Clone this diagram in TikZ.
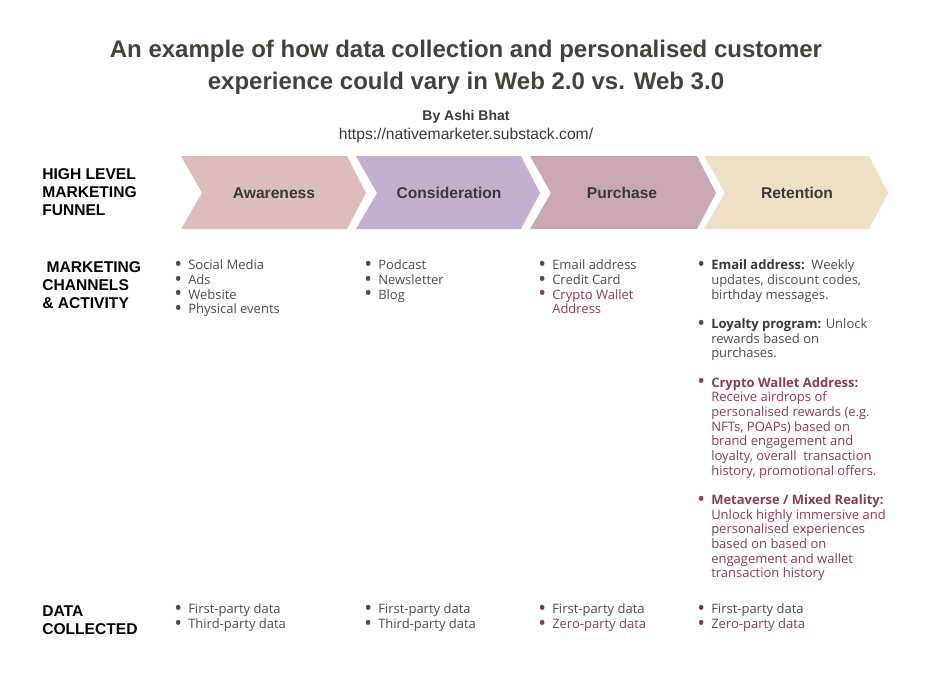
\documentclass[tikz,border=0pt]{standalone}
\usepackage{fontspec}
\setmainfont{Open Sans}
\newfontfamily\headfont{Liberation Sans}
\definecolor{titlegreen}{HTML}{3E4639}
\definecolor{txtgrey}{HTML}{4D4D4D}
\definecolor{boldgrey}{HTML}{3A3A3A}
\definecolor{wine}{HTML}{8C3B5B}
\definecolor{awarecol}{HTML}{DCBCBC}
\definecolor{considcol}{HTML}{C3AFCE}
\definecolor{purchcol}{HTML}{C9A8B3}
\definecolor{retaincol}{HTML}{EDE0C6}
\newcommand{\bt}{\makebox[10.5pt][l]{\raisebox{-0.12em}{\scalebox{1.6}{\textbullet}}}}
\newcommand{\chevron}[3]{\fill[#1] (#2,156) -- (#3,156) -- (#3+19,193) -- (#3,229) -- (#2,229) -- (#2+21,193) -- cycle;}
\tikzset{
  rowlabel/.style={anchor=north west, align=left, inner sep=0pt,
    font=\headfont\bfseries\fontsize{11.7}{13.5}\selectfont},
  stage/.style={text=boldgrey, font=\headfont\bfseries\fontsize{11.7}{13}\selectfont},
  items/.style={anchor=north west, inner sep=0pt, text=txtgrey,
    font=\fontsize{9.75}{11}\selectfont},
}
\begin{document}
\begin{tikzpicture}[x=0.75pt,y=-0.75pt]
	\useasboundingbox[fill=white] (0,0) rectangle (936,687);
	\node[anchor=north, align=center, inner sep=0pt, text=titlegreen,
	  font=\headfont\bfseries\fontsize{18}{24}\selectfont] (title) at (466,39.5)
	  {An example of how data collection and personalised customer\\
	   experience could vary in Web 2.0 vs. Web 3.0};
	\node[anchor=base, text=boldgrey, font=\headfont\bfseries\fontsize{10.5}{12}\selectfont] (author) at (466,120) {By Ashi Bhat};
	\node[anchor=base, text=boldgrey, font=\headfont\fontsize{11.75}{13}\selectfont] (url) at (466,139) {https://nativemarketer.substack.com/};

	\node[rowlabel] (funnel) at (42,168.5) {HIGH LEVEL\\MARKETING\\FUNNEL};
	\node[rowlabel] (channels) at (42,261.5) {\ MARKETING\\CHANNELS\\\& ACTIVITY};
	\node[rowlabel] (data) at (42,605.5) {DATA\\COLLECTED};

	\chevron{awarecol}{181}{347}
	\chevron{considcol}{356}{521}
	\chevron{purchcol}{530}{697}
	\chevron{retaincol}{704}{869}
	\node[stage] (aware) at (274,193) {Awareness};
	\node[stage] (consid) at (449,193) {Consideration};
	\node[stage] (purch) at (622,193) {Purchase};
	\node[stage] (retain) at (797,193) {Retention};

	\node[items] (awarech) at (174,259.3) {\begin{tabular}{@{}l@{}l@{}}
	  \bt & Social Media\\ \bt & Ads\\ \bt & Website\\ \bt & Physical events
	  \end{tabular}};
	\node[items] (considch) at (364,259.3) {\begin{tabular}{@{}l@{}l@{}}
	  \bt & Podcast\\ \bt & Newsletter\\ \bt & Blog
	  \end{tabular}};
	\node[items] (purchch) at (538,259.3) {\begin{tabular}{@{}l@{}l@{}}
	  \bt & Email address\\ \bt & Credit Card\\
	  \color{wine}\bt & \color{wine}Crypto Wallet\\ & \color{wine}Address
	  \end{tabular}};
	\node[items] (retainch) at (697,259.3) {\begin{tabular}{@{}l@{}l@{}}
	  \bt & \textcolor{boldgrey}{\bfseries Email address:}\ \ Weekly\\
	   & updates, discount codes,\\ & birthday messages.\\ & \\
	  \bt & \textcolor{boldgrey}{\bfseries Loyalty program:} Unlock\\
	   & rewards based on\\ & purchases.\\ & \\
	  \color{wine}\bt & \color{wine}\bfseries Crypto Wallet Address:\\
	   & \color{wine}Receive airdrops of\\
	   & \color{wine}personalised rewards (e.g.\\
	   & \color{wine}NFTs, POAPs) based on\\
	   & \color{wine}brand engagement and\\
	   & \color{wine}loyalty, overall\ \ transaction\\
	   & \color{wine}history, promotional offers.\\ & \\
	  \color{wine}\bt & \color{wine}\bfseries Metaverse / Mixed Reality:\\
	   & \color{wine}Unlock highly immersive and\\
	   & \color{wine}personalised experiences\\
	   & \color{wine}based on based on\\
	   & \color{wine}engagement and wallet\\
	   & \color{wine}transaction history
	  \end{tabular}};

	\node[items] (awaredata) at (174,603.3) {\begin{tabular}{@{}l@{}l@{}}
	  \bt & First-party data\\ \bt & Third-party data
	  \end{tabular}};
	\node[items] (considdata) at (364,603.3) {\begin{tabular}{@{}l@{}l@{}}
	  \bt & First-party data\\ \bt & Third-party data
	  \end{tabular}};
	\node[items] (purchdata) at (538,603.3) {\begin{tabular}{@{}l@{}l@{}}
	  \bt & First-party data\\ \color{wine}\bt & \color{wine}Zero-party data
	  \end{tabular}};
	\node[items] (retaindata) at (697,603.3) {\begin{tabular}{@{}l@{}l@{}}
	  \bt & First-party data\\ \color{wine}\bt & \color{wine}Zero-party data
	  \end{tabular}};
\end{tikzpicture}
\end{document}
